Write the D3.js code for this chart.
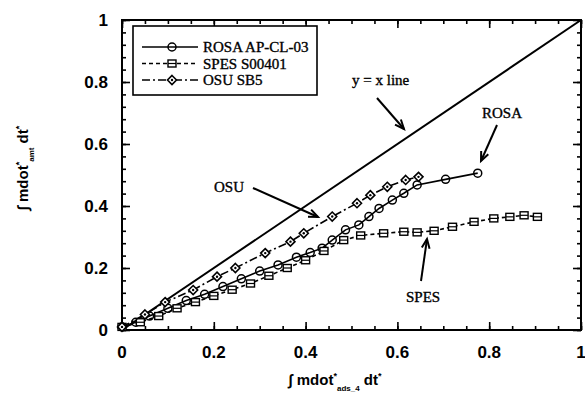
<!DOCTYPE html>
<html>
<head>
<meta charset="utf-8">
<script src="https://cdn.jsdelivr.net/npm/d3@7"></script>
<style>
  html, body { margin: 0; padding: 0; background: #fff; }
  svg { display: block; }
  .tick-label { font-family: "Liberation Sans", Arial, sans-serif; font-weight: bold; font-size: 17px; fill: #000; }
  .serif { font-family: "Liberation Serif", "Times New Roman", serif; font-size: 15px; fill: #000; stroke: #000; stroke-width: 0.35px; }
  .title { font-family: "Liberation Sans", Arial, sans-serif; font-weight: bold; font-size: 15px; fill: #000; }
</style>
</head>
<body>
<svg id="chart" width="585" height="406"></svg>
<script>
// Integrated mass flow: annulus vs ADS-4, three test facilities
const rosaX = [0, 0.03, 0.06, 0.10, 0.14, 0.18, 0.22, 0.26, 0.30, 0.34, 0.38, 0.41, 0.436, 0.458, 0.487, 0.516, 0.538, 0.56, 0.589, 0.614, 0.643, 0.705, 0.775];
const rosaY = [0.01, 0.025, 0.045, 0.07, 0.095, 0.115, 0.14, 0.165, 0.19, 0.21, 0.235, 0.25, 0.264, 0.29, 0.323, 0.339, 0.366, 0.392, 0.419, 0.441, 0.468, 0.486, 0.506];

const spesX = [0, 0.04, 0.08, 0.12, 0.16, 0.20, 0.24, 0.28, 0.32, 0.36, 0.40, 0.44, 0.483, 0.52, 0.57, 0.614, 0.643, 0.68, 0.72, 0.767, 0.81, 0.845, 0.876, 0.905];
const spesY = [0.01, 0.025, 0.045, 0.07, 0.09, 0.11, 0.13, 0.15, 0.175, 0.20, 0.225, 0.255, 0.29, 0.305, 0.312, 0.317, 0.315, 0.32, 0.333, 0.349, 0.36, 0.365, 0.37, 0.365];

const osuX = [0, 0.05, 0.094, 0.155, 0.207, 0.247, 0.312, 0.367, 0.396, 0.458, 0.512, 0.541, 0.578, 0.618, 0.646];
const osuY = [0.01, 0.05, 0.09, 0.129, 0.172, 0.20, 0.248, 0.285, 0.312, 0.366, 0.409, 0.435, 0.462, 0.484, 0.494];

const identityX = [0, 1];
const identityY = [0, 1];

const xTicks = [0, 0.2, 0.4, 0.6, 0.8, 1];
const yTicks = [0, 0.2, 0.4, 0.6, 0.8, 1];
const xTickLabels = ["0", "0.2", "0.4", "0.6", "0.8", "1"];
const yTickLabels = ["0", "0.2", "0.4", "0.6", "0.8", "1"];

const legendNames = ["ROSA AP-CL-03", "SPES S00401", "OSU SB5"];

const svg = d3.select("#chart");
const L = 122, R = 581, T = 20, B = 330;
const x = d3.scaleLinear().domain([0, 1]).range([L, R]);
const y = d3.scaleLinear().domain([0, 1]).range([B, T]);

// axes with inward ticks on all four sides
const xMinor = d3.range(0, 1.0001, 0.05);
const yMinor = d3.range(0, 1.0001, 0.04);
function addAxis(axis, transform) {
  const g = svg.append("g").attr("transform", transform).call(axis);
  g.select(".domain").remove();
  g.selectAll("text").remove();
  g.selectAll("line").attr("stroke", "#000").attr("stroke-width", 1.6);
  return g;
}
addAxis(d3.axisBottom(x).tickValues(xMinor).tickSize(-4), `translate(0,${B})`);
addAxis(d3.axisBottom(x).tickValues(xTicks).tickSize(-8), `translate(0,${B})`);
addAxis(d3.axisTop(x).tickValues(xMinor).tickSize(-4), `translate(0,${T})`);
addAxis(d3.axisTop(x).tickValues(xTicks).tickSize(-8), `translate(0,${T})`);
addAxis(d3.axisLeft(y).tickValues(yMinor).tickSize(-4), `translate(${L},0)`);
addAxis(d3.axisLeft(y).tickValues(yTicks).tickSize(-8), `translate(${L},0)`);
addAxis(d3.axisRight(y).tickValues(yMinor).tickSize(-4), `translate(${R},0)`);
addAxis(d3.axisRight(y).tickValues(yTicks).tickSize(-8), `translate(${R},0)`);

svg.append("rect").attr("x", L).attr("y", T).attr("width", R - L).attr("height", B - T)
  .attr("fill", "none").attr("stroke", "#000").attr("stroke-width", 2);

// tick labels
svg.selectAll(".xl").data(xTicks).enter().append("text").attr("class", "tick-label")
  .attr("x", d => x(d)).attr("y", 358).attr("text-anchor", "middle").text((d, i) => xTickLabels[i]);
svg.selectAll(".yl").data(yTicks).enter().append("text").attr("class", "tick-label")
  .attr("x", 108).attr("y", d => y(d) + 6).attr("text-anchor", "end").text((d, i) => yTickLabels[i]);

// axis titles
const xt = svg.append("text").attr("class", "title").attr("x", 335).attr("y", 385).attr("text-anchor", "middle");
xt.append("tspan").text("\u222B mdot");
xt.append("tspan").attr("dy", -6).attr("font-size", 9).text("*");
xt.append("tspan").attr("dy", 12).attr("font-size", 8).text("ads_4");
xt.append("tspan").attr("dy", -6).text(" dt");
xt.append("tspan").attr("dy", -6).attr("font-size", 9).text("*");

const yt = svg.append("text").attr("class", "title").attr("text-anchor", "middle")
  .attr("transform", "translate(28,168) rotate(-90)");
yt.append("tspan").text("\u222B mdot");
yt.append("tspan").attr("dy", -6).attr("font-size", 9).text("*");
yt.append("tspan").attr("dy", 12).attr("font-size", 8).text("amt");
yt.append("tspan").attr("dy", -6).text(" dt");
yt.append("tspan").attr("dy", -6).attr("font-size", 9).text("*");

// y = x reference line
const line = d3.line().x(d => x(d[0])).y(d => y(d[1]));
svg.append("path").datum(d3.zip(identityX, identityY)).attr("d", line)
  .attr("fill", "none").attr("stroke", "#000").attr("stroke-width", 2);

// marker shapes
function circleMark(g, px, py) {
  g.append("circle").attr("cx", px).attr("cy", py).attr("r", 4)
    .attr("fill", "none").attr("stroke", "#000").attr("stroke-width", 1.5);
}
function squareMark(g, px, py) {
  g.append("rect").attr("x", px - 4).attr("y", py - 3.5).attr("width", 8).attr("height", 7)
    .attr("fill", "#fff").attr("stroke", "#000").attr("stroke-width", 1.4);
  g.append("line").attr("x1", px - 4).attr("x2", px + 4).attr("y1", py).attr("y2", py)
    .attr("stroke", "#000").attr("stroke-width", 1.2);
}
function diamondMark(g, px, py) {
  g.append("path").attr("d", `M${px},${py - 4.5}L${px + 4.5},${py}L${px},${py + 4.5}L${px - 4.5},${py}Z`)
    .attr("fill", "#fff").attr("stroke", "#000").attr("stroke-width", 1.6);
  g.append("circle").attr("cx", px).attr("cy", py).attr("r", 1.2).attr("fill", "#000");
}

const series = [
  { xs: rosaX, ys: rosaY, dash: null, mark: circleMark },
  { xs: spesX, ys: spesY, dash: "4,3", mark: squareMark },
  { xs: osuX, ys: osuY, dash: "8,3,2,3", mark: diamondMark }
];

series.forEach(s => {
  const pts = d3.zip(s.xs, s.ys);
  const g = svg.append("g");
  g.append("path").datum(pts).attr("d", line).attr("fill", "none")
    .attr("stroke", "#000").attr("stroke-width", 1.6)
    .attr("stroke-dasharray", s.dash);
  pts.forEach(p => s.mark(g, x(p[0]), y(p[1])));
});

// legend
const lg = svg.append("g");
lg.append("rect").attr("x", 133).attr("y", 26).attr("width", 184).attr("height", 69)
  .attr("fill", "#fff").attr("stroke", "#000").attr("stroke-width", 1.6);
legendNames.forEach((name, i) => {
  const s = series[i];
  const ly = 47 + i * 16.5;
  lg.append("line").attr("x1", 142).attr("x2", 198).attr("y1", ly).attr("y2", ly)
    .attr("stroke", "#000").attr("stroke-width", 1.6).attr("stroke-dasharray", s.dash);
  s.mark(lg, 172, ly);
  lg.append("text").attr("class", "serif").attr("x", 203).attr("y", ly + 5).text(name);
});

// annotations with open arrowheads
function arrow(x1, y1, x2, y2) {
  const g = svg.append("g").attr("stroke", "#000").attr("stroke-width", 2).attr("fill", "none");
  g.append("line").attr("x1", x1).attr("y1", y1).attr("x2", x2).attr("y2", y2);
  const a = Math.atan2(y2 - y1, x2 - x1), h = 10, w = 0.4;
  g.append("path").attr("d",
    `M${x2 - h * Math.cos(a - w)},${y2 - h * Math.sin(a - w)}L${x2},${y2}L${x2 - h * Math.cos(a + w)},${y2 - h * Math.sin(a + w)}`);
}
svg.append("text").attr("class", "serif").attr("x", 352).attr("y", 85).text("y = x line");
arrow(377, 98, 404, 129);
svg.append("text").attr("class", "serif").attr("x", 482).attr("y", 118).text("ROSA");
arrow(497, 125, 481, 161);
svg.append("text").attr("class", "serif").attr("x", 214).attr("y", 192).text("OSU");
arrow(253, 188, 318, 217);
svg.append("text").attr("class", "serif").attr("x", 406).attr("y", 302).text("SPES");
arrow(421, 281, 427, 239);
</script>
</body>
</html>
